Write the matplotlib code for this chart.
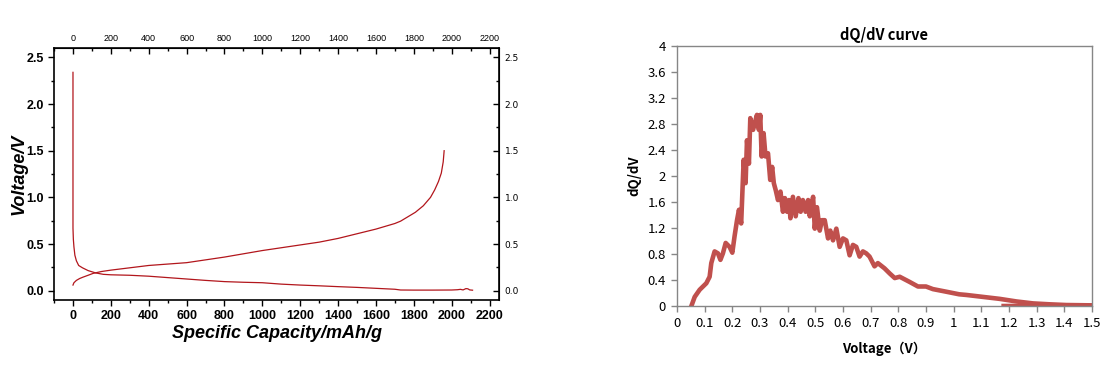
import matplotlib
matplotlib.use("Agg")
import matplotlib.pyplot as plt
from matplotlib.ticker import MultipleLocator, FuncFormatter

# ---- Left panel data: voltage profiles ----
discharge_cap = [0, 0, 0, 2, 5, 10, 18, 30, 50, 80, 120, 160, 200, 300, 400, 500, 600, 700, 800,
                 900, 1000, 1100, 1200, 1300, 1400, 1500, 1600, 1700, 1730, 1800, 1900, 2000,
                 2030, 2046, 2060, 2075, 2085, 2095, 2110]
discharge_v = [2.34, 1.5, 0.67, 0.55, 0.47, 0.38, 0.32, 0.27, 0.245, 0.215, 0.19, 0.175, 0.17, 0.165,
               0.155, 0.14, 0.125, 0.11, 0.097, 0.09, 0.085, 0.07, 0.06, 0.052, 0.043, 0.035, 0.025,
               0.015, 0.007, 0.006, 0.006, 0.007, 0.01, 0.014, 0.008, 0.022, 0.02, 0.008, 0.005]
charge_cap = [0, 5, 18, 35, 53, 80, 106, 150, 200, 300, 400, 500, 600, 700, 800, 900, 1000, 1100,
              1200, 1300, 1400, 1500, 1600, 1700, 1730, 1808, 1850, 1888, 1910, 1930, 1945, 1955, 1960]
charge_v = [0.06, 0.085, 0.11, 0.13, 0.145, 0.165, 0.185, 0.205, 0.22, 0.245, 0.27, 0.285, 0.30, 0.33,
            0.36, 0.395, 0.43, 0.46, 0.49, 0.52, 0.56, 0.61, 0.66, 0.72, 0.745, 0.84, 0.91, 1.0,
            1.08, 1.17, 1.26, 1.38, 1.50]

# ---- Right panel data: dQ/dV ----
dqdv_v = [0.052, 0.064, 0.082, 0.106, 0.118, 0.124, 0.136, 0.148, 0.157, 0.166, 0.176, 0.19, 0.2,
          0.208, 0.217, 0.224, 0.232, 0.241, 0.248, 0.253, 0.26, 0.265, 0.275, 0.284, 0.289, 0.296,
          0.301, 0.306, 0.313, 0.32, 0.329, 0.337, 0.344, 0.35, 0.357, 0.365, 0.374, 0.383, 0.39,
          0.398, 0.405, 0.41, 0.419, 0.429, 0.439, 0.447, 0.455, 0.465, 0.474, 0.48, 0.492, 0.498,
          0.506, 0.516, 0.524, 0.534, 0.546, 0.554, 0.564, 0.576, 0.588, 0.6, 0.612, 0.624, 0.636,
          0.648, 0.66, 0.672, 0.684, 0.696, 0.714, 0.726, 0.75, 0.769, 0.787, 0.805, 0.841, 0.871,
          0.9, 0.925, 0.973, 1.02, 1.046, 1.106, 1.166, 1.227, 1.287, 1.347, 1.407, 1.5]
dqdv_q = [0.0, 0.14, 0.25, 0.35, 0.45, 0.66, 0.84, 0.81, 0.71, 0.81, 0.97, 0.91, 0.82, 1.07, 1.32,
          1.48, 1.27, 2.25, 1.89, 2.55, 2.19, 2.89, 2.71, 2.86, 2.94, 2.71, 2.94, 2.3, 2.66, 2.3,
          2.35, 1.94, 2.14, 1.89, 1.78, 1.63, 1.76, 1.45, 1.66, 1.45, 1.63, 1.35, 1.68, 1.38, 1.66,
          1.45, 1.63, 1.45, 1.63, 1.38, 1.68, 1.19, 1.52, 1.16, 1.32, 1.32, 1.04, 1.16, 1.01, 1.19,
          0.91, 1.04, 1.01, 0.78, 0.94, 0.91, 0.76, 0.84, 0.81, 0.76, 0.61, 0.66, 0.58, 0.5, 0.43,
          0.45, 0.37, 0.3, 0.3, 0.26, 0.22, 0.18, 0.17, 0.14, 0.11, 0.07, 0.04, 0.026, 0.015, 0.01]
tail_v = [1.18, 1.3, 1.4, 1.5]
tail_q = [0.003, 0.005, 0.006, 0.008]

line_red = "#B2161C"
excel_red = "#C0504D"
gray = "#868686"

fig = plt.figure(figsize=(11.12, 3.71), dpi=100)

# ---------------- Left panel ----------------
ax = fig.add_axes([0.0486, 0.1914, 0.4002, 0.679])
ax.plot(discharge_cap, discharge_v, color=line_red, lw=0.9)
ax.plot(charge_cap, charge_v, color=line_red, lw=0.9)
ax.set_xlim(-100, 2250)
ax.set_ylim(-0.1, 2.6)
ax.xaxis.set_major_locator(MultipleLocator(200))
ax.xaxis.set_minor_locator(MultipleLocator(100))
ax.yaxis.set_major_locator(MultipleLocator(0.5))
ax.yaxis.set_minor_locator(MultipleLocator(0.25))
ax.yaxis.set_major_formatter(FuncFormatter(lambda v, p: f"{v:.1f}"))
for s in ax.spines.values():
    s.set_linewidth(1.2)
ax.tick_params(which="both", direction="out", top=False, right=False, width=1.0)
ax.tick_params(which="major", length=4)
ax.tick_params(which="minor", length=2.5)
for lab in ax.get_xticklabels() + ax.get_yticklabels():
    lab.set_fontweight("bold")
    lab.set_fontsize(9)
    lab.set_family("Liberation Sans")
ax.set_xlabel("Specific Capacity/mAh/g", fontsize=13, fontweight="bold", fontstyle="italic",
              family="Liberation Sans", labelpad=2)
ax.set_ylabel("Voltage/V", fontsize=13, fontweight="bold", fontstyle="italic",
              family="Liberation Sans", labelpad=-1)

# top axis
axt = ax.secondary_xaxis("top")
axt.xaxis.set_major_locator(MultipleLocator(200))
axt.xaxis.set_minor_locator(MultipleLocator(100))
axt.tick_params(which="both", direction="in", width=1.0, labelsize=6.5, pad=4)
axt.tick_params(which="major", length=4)
axt.tick_params(which="minor", length=2.5)
for lab in axt.get_xticklabels():
    lab.set_family("Liberation Sans")
# right axis
axr = ax.secondary_yaxis("right")
axr.yaxis.set_major_locator(MultipleLocator(0.5))
axr.yaxis.set_minor_locator(MultipleLocator(0.25))
axr.yaxis.set_major_formatter(FuncFormatter(lambda v, p: f"{v:.1f}"))
axr.tick_params(which="both", direction="in", width=1.0, labelsize=6.5, pad=4)
axr.tick_params(which="major", length=4)
axr.tick_params(which="minor", length=2.5)

# ---------------- Right panel ----------------
bx = fig.add_axes([0.6088, 0.1752, 0.3732, 0.7008])
bx.plot(dqdv_v, dqdv_q, color=excel_red, lw=3.3, solid_joinstyle="round")
bx.plot(tail_v, tail_q, color=excel_red, lw=3.0)
bx.set_xlim(0, 1.5)
bx.set_ylim(0, 4)
bx.xaxis.set_major_locator(MultipleLocator(0.1))
bx.yaxis.set_major_locator(MultipleLocator(0.4))
bx.xaxis.set_major_formatter(FuncFormatter(lambda v, p: f"{v:.1f}".rstrip("0").rstrip(".") if v else "0"))
bx.yaxis.set_major_formatter(FuncFormatter(lambda v, p: f"{v:.1f}".rstrip("0").rstrip(".") if v else "0"))
for s in bx.spines.values():
    s.set_color(gray)
    s.set_linewidth(1.0)
bx.tick_params(direction="out", length=4, width=1.0, color=gray, labelsize=9.5, pad=4)
for lab in bx.get_xticklabels() + bx.get_yticklabels():
    lab.set_family(["Noto Sans CJK SC", "DejaVu Sans"])
bx.set_title("dQ/dV curve", fontsize=10.5, fontweight="bold", family=["Noto Sans CJK SC", "DejaVu Sans"], pad=4)
bx.set_xlabel("Voltage（V）", fontsize=9.5, fontweight="bold", family=["Noto Sans CJK SC", "DejaVu Sans"], labelpad=8)
bx.set_ylabel("dQ/dV", fontsize=9.5, fontweight="bold", family=["Noto Sans CJK SC", "DejaVu Sans"], labelpad=4)

fig.savefig("out.png", dpi=100)
